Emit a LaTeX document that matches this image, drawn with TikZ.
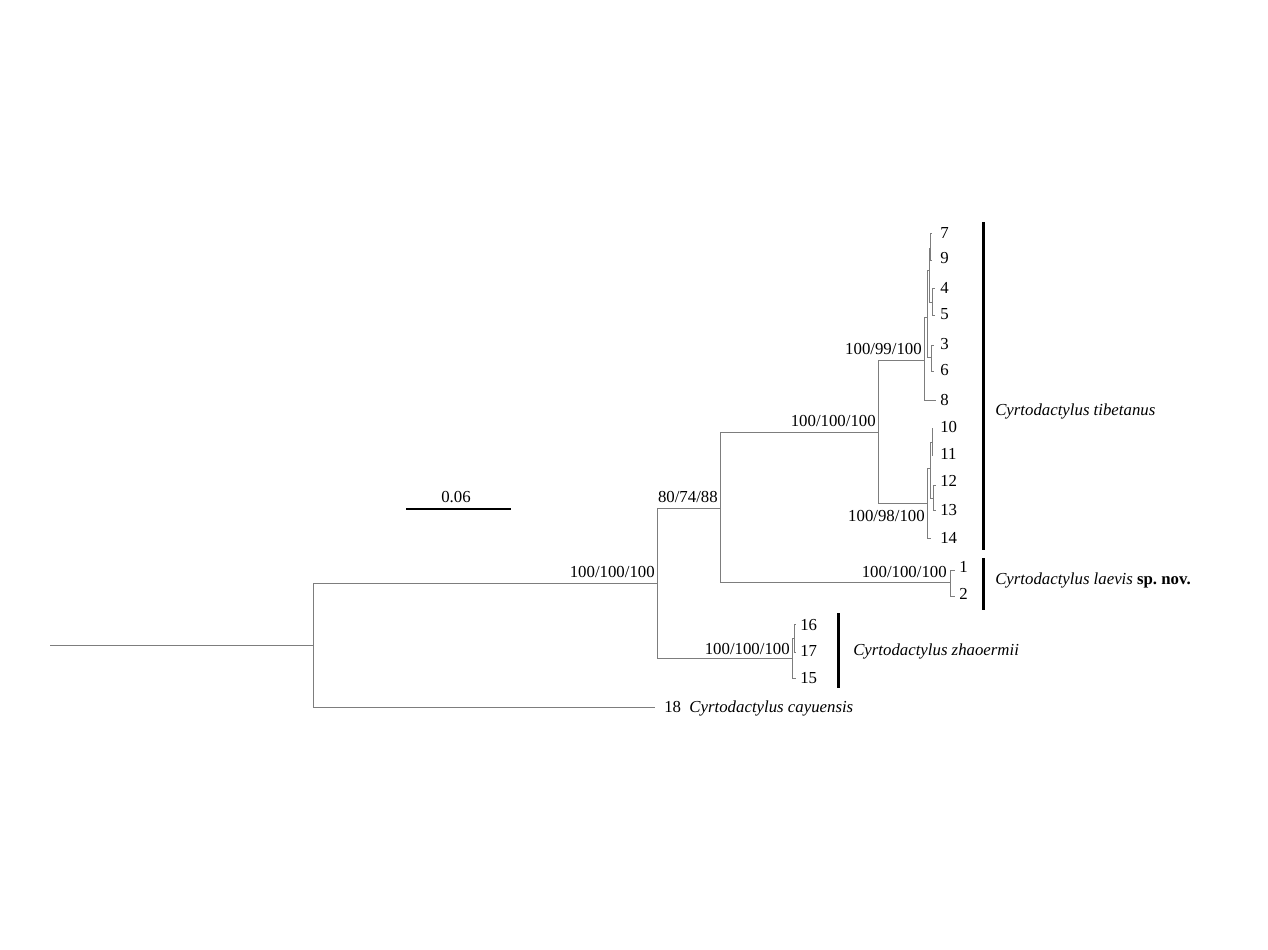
\documentclass[tikz,border=0pt]{standalone}
\usepackage{fontspec}
\setmainfont{Liberation Serif}
\definecolor{treegray}{RGB}{125,125,125}
\frenchspacing
\begin{document}
\begin{tikzpicture}[x=0.75pt,y=-0.75pt,
  br/.style={draw=treegray,line width=0.7pt},
  lab/.style={inner sep=0pt,font=\fontsize{12.6}{15}\selectfont},
  tip/.style={lab,anchor=west},
  sup/.style={lab,anchor=east},
  cladebar/.style={line width=2.25pt,black},
  scalebar/.style={line width=1.5pt,black}]
\useasboundingbox (0,0) rectangle (1268,950);
% tree node coordinates
\coordinate (r0) at (50,645);
\coordinate (R) at (313,645);
\coordinate (N1) at (657,583);
\coordinate (t18) at (655,707);
\coordinate (N2) at (720,508);
\coordinate (Z) at (792,658);
\coordinate (N3) at (878,432);
\coordinate (L) at (950,582);
\coordinate (t1) at (955,570);
\coordinate (t2) at (955,596);
\coordinate (A) at (924,360);
\coordinate (F) at (927,503);
\coordinate (t8) at (936,400);
\coordinate (B) at (927,317);
\coordinate (D) at (929,270);
\coordinate (C) at (931,357);
\coordinate (E79) at (930,248);
\coordinate (E45) at (932,302);
\coordinate (t7) at (932,233);
\coordinate (t9) at (932,260);
\coordinate (t4) at (935,288);
\coordinate (t5) at (935,315);
\coordinate (t3) at (934,345);
\coordinate (t6) at (934,371);
\coordinate (G) at (930,468);
\coordinate (t14) at (931,538);
\coordinate (H) at (932,442);
\coordinate (I) at (933,498);
\coordinate (t10) at (933,428);
\coordinate (t11) at (933,455);
\coordinate (t12) at (936,485);
\coordinate (t13) at (936,510);
\coordinate (Z2) at (794,638);
\coordinate (t15) at (796,678);
\coordinate (t16) at (796,624);
\coordinate (t17) at (796,652);
% branches
\draw[br] (r0) -- (R);
\draw[br] (R) |- (N1);
\draw[br] (R) |- (t18);
\draw[br] (N1) |- (N2);
\draw[br] (N1) |- (Z);
\draw[br] (N2) |- (N3);
\draw[br] (N2) |- (L);
\draw[br] (L) |- (t1);
\draw[br] (L) |- (t2);
\draw[br] (N3) |- (A);
\draw[br] (N3) |- (F);
\draw[br] (A) |- (t8);
\draw[br] (A) |- (B);
\draw[br] (B) |- (D);
\draw[br] (B) |- (C);
\draw[br] (D) |- (E79);
\draw[br] (D) |- (E45);
\draw[br] (E79) |- (t7);
\draw[br] (E79) |- (t9);
\draw[br] (E45) |- (t4);
\draw[br] (E45) |- (t5);
\draw[br] (C) |- (t3);
\draw[br] (C) |- (t6);
\draw[br] (F) |- (G);
\draw[br] (F) |- (t14);
\draw[br] (G) |- (H);
\draw[br] (G) |- (I);
\draw[br] (H) |- (t10);
\draw[br] (H) |- (t11);
\draw[br] (I) |- (t12);
\draw[br] (I) |- (t13);
\draw[br] (Z) |- (Z2);
\draw[br] (Z) |- (t15);
\draw[br] (Z2) |- (t16);
\draw[br] (Z2) |- (t17);
% support values
\node[sup] (s1) at (655,572) {100/100/100};
\node[sup] (s2) at (718,497) {80/74/88};
\node[sup] (s3) at (790,649) {100/100/100};
\node[sup] (s4) at (876,421) {100/100/100};
\node[sup] (s5) at (947,572) {100/100/100};
\node[sup] (s6) at (922,349) {100/99/100};
\node[sup] (s7) at (925,516) {100/98/100};
% tip labels
\node[tip] (l7) at (940,233) {7};
\node[tip] (l9) at (940,258) {9};
\node[tip] (l4) at (940,288) {4};
\node[tip] (l5) at (940,314) {5};
\node[tip] (l3) at (940,344) {3};
\node[tip] (l6) at (940,370) {6};
\node[tip] (l8) at (940,400) {8};
\node[tip] (l10) at (940,427) {10};
\node[tip] (l11) at (940,454) {11};
\node[tip] (l12) at (940,481) {12};
\node[tip] (l13) at (940,510) {13};
\node[tip] (l14) at (940,538) {14};
\node[tip] (l1) at (959,567) {1};
\node[tip] (l2) at (959,594) {2};
\node[tip] (l16) at (800,625) {16};
\node[tip] (l17) at (800,651) {17};
\node[tip] (l15) at (800,678) {15};
\node[tip] (l18) at (664,708) {18\enspace\textit{Cyrtodactylus cayuensis}};
% clade bars
\coordinate (bt1) at (983,222);
\coordinate (bt2) at (983,550);
\coordinate (bl1) at (983,558);
\coordinate (bl2) at (983,610);
\coordinate (bz1) at (838,613);
\coordinate (bz2) at (838,688);
\draw[cladebar] (bt1) -- (bt2);
\draw[cladebar] (bl1) -- (bl2);
\draw[cladebar] (bz1) -- (bz2);
\node[tip] (ct) at (995,411) {\textit{Cyrtodactylus tibetanus}};
\node[tip] (cl) at (995,580) {\textit{Cyrtodactylus laevis} \textbf{sp.\ nov.}};
\node[tip] (cz) at (853,651) {\textit{Cyrtodactylus zhaoermii}};
% scale bar
\coordinate (sb1) at (406,509);
\coordinate (sb2) at (511,509);
\draw[scalebar] (sb1) -- (sb2);
\node[lab] (sbl) at (456,497) {0.06};
\end{tikzpicture}
\end{document}
